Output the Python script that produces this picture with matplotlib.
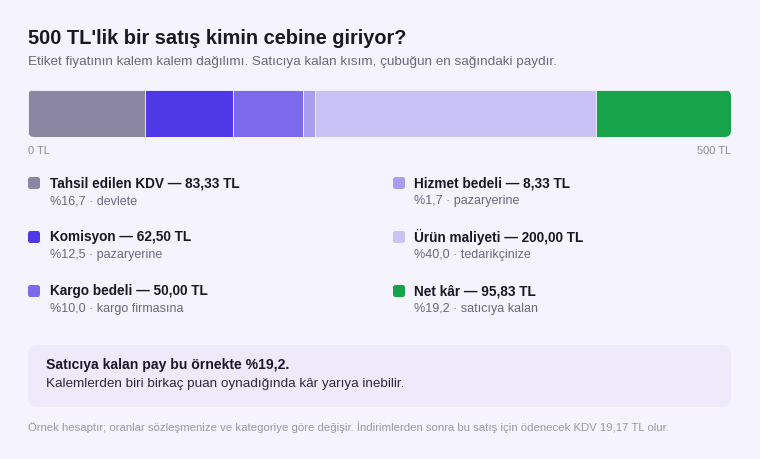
import matplotlib.pyplot as plt
from matplotlib.patches import FancyBboxPatch

# ============================================================
LABELS = ["Tahsil edilen KDV", "Komisyon", "Kargo bedeli",
          "Hizmet bedeli", "Ürün maliyeti", "Net kâr"]
VALUES = [83.33, 62.50, 50.00, 8.33, 200.00, 95.83]
SHARES = ["%16,7", "%12,5", "%10,0", "%1,7", "%40,0", "%19,2"]
WHO = ["devlete", "pazaryerine", "kargo firmasına",
       "pazaryerine", "tedarikçinize", "satıcıya kalan"]
COLORS = ["#8b87a3", "#4f39e6", "#7b6aec", "#a89df0", "#c9c2f6", "#17a34a"]
TOTAL = 500

BG = "#f5f3fd"
plt.rcParams['font.family'] = ['Liberation Sans', 'DejaVu Sans']

W, H = 760, 459
fig = plt.figure(figsize=(W / 100, H / 100), dpi=100, facecolor=BG)

# tam sayfa eksen: piksel koordinatları
ax = fig.add_axes([0, 0, 1, 1])
ax.set_xlim(0, W); ax.set_ylim(H, 0); ax.axis("off")
ax.set_facecolor(BG)

ax.text(28, 38, "500 TL'lik bir satış kimin cebine giriyor?", fontsize=14.4,
        fontweight="bold", color="#1a1726", va="center")
ax.text(28, 62, "Etiket fiyatının kalem kalem dağılımı. Satıcıya kalan kısım, "
        "çubuğun en sağındaki paydır.", fontsize=9.7, color="#6b6780", va="center")

# yığılmış çubuk
x0, x1, y0, y1 = 28, 731, 90, 137
bax = fig.add_axes([x0 / W, 1 - y1 / H, (x1 - x0) / W, (y1 - y0) / H])
bax.set_xlim(0, TOTAL); bax.set_ylim(0, 1); bax.axis("off")
clip = FancyBboxPatch((0, 0), 1, 1, boxstyle="round,pad=0,rounding_size=0.009",
                      transform=bax.transAxes, facecolor="none", edgecolor="none",
                      mutation_aspect=(x1 - x0) / (y1 - y0))
bax.add_patch(clip)
left = 0
for v, c in zip(VALUES, COLORS):
    bars = bax.barh(0.5, v, left=left, height=1, color=c, edgecolor=BG, linewidth=0.6)
    for b in bars:
        b.set_clip_path(clip)
    left += v

ax.text(28, 151, "0 TL", fontsize=8, color="#8d8a9c", va="center")
ax.text(731, 151, f"{TOTAL} TL", fontsize=8, color="#8d8a9c", va="center", ha="right")

# açıklamalar
cols = [(28, 50), (393, 414)]
rows = [183, 237, 291]
for i, (lab, v, s, w, c) in enumerate(zip(LABELS, VALUES, SHARES, WHO, COLORS)):
    sx, tx = cols[i // 3]
    ry = rows[i % 3]
    ax.add_patch(FancyBboxPatch((sx, ry - 6), 12, 12,
                                boxstyle="round,pad=0,rounding_size=2.5",
                                facecolor=c, edgecolor="none"))
    val = f"{v:,.2f}".replace(".", "#").replace(",", ".").replace("#", ",")
    ax.text(tx, ry, f"{lab} — {val} TL", fontsize=9.8, fontweight="bold",
            color="#1a1726", va="center")
    ax.text(tx, ry + 18, f"{s} · {w}", fontsize=9, color="#6b6780", va="center")

# bilgi kutusu
ax.add_patch(FancyBboxPatch((28, 345), 703, 62, boxstyle="round,pad=0,rounding_size=10",
                            facecolor="#eeeafb", edgecolor="none"))
ax.text(46, 365, "Satıcıya kalan pay bu örnekte %19,2.", fontsize=10.1,
        fontweight="bold", color="#1a1726", va="center")
ax.text(46, 384, "Kalemlerden biri birkaç puan oynadığında kâr yarıya inebilir.",
        fontsize=9.7, color="#2e2a3d", va="center")

ax.text(28, 427, "Örnek hesaptır; oranlar sözleşmenize ve kategoriye göre değişir. "
        "İndirimlerden sonra bu satış için ödenecek KDV 19,17 TL olur.",
        fontsize=8.2, color="#9a96aa", va="center")

fig.savefig("out.png", dpi=100, facecolor=BG)
